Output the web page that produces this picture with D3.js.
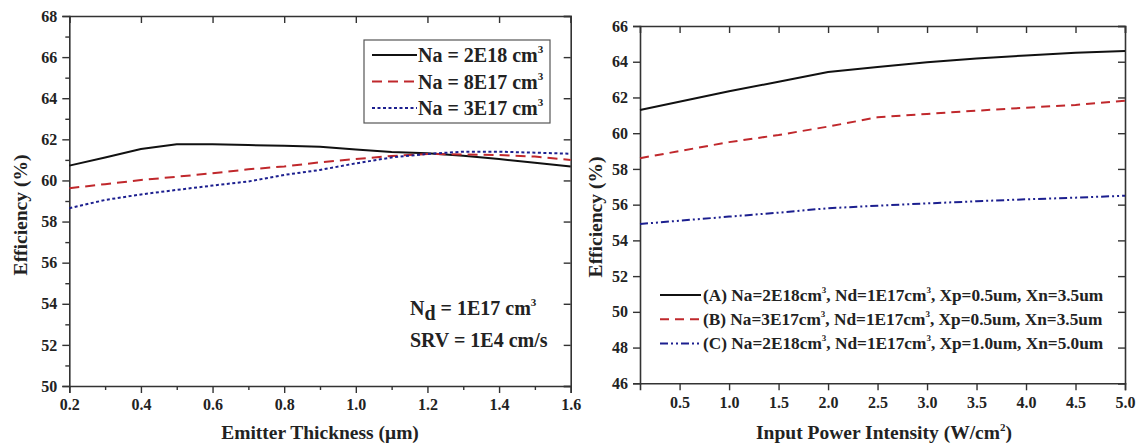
<!DOCTYPE html>
<html>
<head>
<script src="https://d3js.org/d3.v7.min.js"></script>
</head>
<body style="margin:0">
<script>
// left panel: efficiency vs emitter thickness
var thickness = [0.2, 0.3, 0.4, 0.5, 0.6, 0.7, 0.8, 0.9, 1.0, 1.1, 1.2, 1.3, 1.4, 1.5, 1.6];
var effNa2E18 = [60.72, 61.12, 61.53, 61.76, 61.76, 61.72, 61.69, 61.64, 61.5, 61.38, 61.32, 61.2, 61.04, 60.86, 60.68];
var effNa8E17 = [59.62, 59.82, 60.02, 60.18, 60.35, 60.54, 60.68, 60.88, 61.04, 61.19, 61.29, 61.26, 61.24, 61.16, 61.0];
var effNa3E17 = [58.65, 59.05, 59.32, 59.54, 59.75, 59.95, 60.27, 60.51, 60.83, 61.12, 61.29, 61.4, 61.4, 61.35, 61.3];
var leftLegend = ["Na = 2E18 cm", "Na = 8E17 cm", "Na = 3E17 cm"];

// right panel: efficiency vs input power intensity
var power = [0.1, 1.0, 1.5, 2.0, 2.5, 3.0, 3.5, 4.0, 4.5, 5.0];
var effA = [61.3, 62.35, 62.88, 63.42, 63.7, 63.97, 64.18, 64.35, 64.5, 64.6];
var effB = [58.6, 59.5, 59.9, 60.37, 60.89, 61.08, 61.26, 61.43, 61.58, 61.82];
var effC = [54.92, 55.33, 55.55, 55.8, 55.94, 56.07, 56.19, 56.3, 56.39, 56.5];
var rightLegend = [
    ["(A) Na=2E18cm", ", Nd=1E17cm", ", Xp=0.5um, Xn=3.5um"],
    ["(B) Na=3E17cm", ", Nd=1E17cm", ", Xp=0.5um, Xn=3.5um"],
    ["(C) Na=2E18cm", ", Nd=1E17cm", ", Xp=1.0um, Xn=5.0um"]
];

var leftTicksX = [0.2, 0.4, 0.6, 0.8, 1.0, 1.2, 1.4, 1.6];
var leftMinorX = [0.3, 0.5, 0.7, 0.9, 1.1, 1.3, 1.5];
var leftTicksY = [50, 52, 54, 56, 58, 60, 62, 64, 66, 68];
var leftMinorY = [51, 53, 55, 57, 59, 61, 63, 65, 67];
var rightTicksX = [0.5, 1.0, 1.5, 2.0, 2.5, 3.0, 3.5, 4.0, 4.5, 5.0];
var rightTicksY = [46, 48, 50, 52, 54, 56, 58, 60, 62, 64, 66];

var colors = ["#111", "#c0282c", "#1c1f8f"];
var serif = "Liberation Serif";

var svg = d3.select("body").append("svg").attr("width", 1138).attr("height", 445);

function label(sel, size) {
    return sel.append("text").attr("font-family", serif).attr("font-weight", "bold")
        .attr("font-size", size).attr("fill", "#222");
}

function frame(x, y, ticksX, minorX, ticksY, minorY) {
    var x0 = x.range()[0], x1 = x.range()[1], y0 = y.range()[0], y1 = y.range()[1];
    var g = svg.append("g");
    var fmtX = d3.format(".1f");

    g.append("g").attr("transform", "translate(0," + y0 + ")")
        .call(d3.axisBottom(x).tickValues(ticksX).tickSize(7).tickPadding(6).tickFormat(fmtX));
    if (minorX) {
        g.append("g").attr("transform", "translate(0," + y0 + ")")
            .call(d3.axisBottom(x).tickValues(minorX).tickSize(4).tickFormat(""))
            .select(".domain").remove();
    }
    g.append("g").attr("transform", "translate(" + x0 + ",0)")
        .call(d3.axisLeft(y).tickValues(ticksY).tickSize(7).tickPadding(5));
    if (minorY) {
        g.append("g").attr("transform", "translate(" + x0 + ",0)")
            .call(d3.axisLeft(y).tickValues(minorY).tickSize(4).tickFormat(""))
            .select(".domain").remove();
    }
    g.append("g").attr("transform", "translate(0," + y1 + ")")
        .call(d3.axisTop(x).tickValues(ticksX).tickSize(-7).tickFormat(""));
    g.append("g").attr("transform", "translate(" + x1 + ",0)")
        .call(d3.axisRight(y).tickValues(ticksY).tickSize(-7).tickFormat(""));
    g.selectAll(".domain").attr("stroke", "#333").attr("stroke-width", 1.6);
    g.selectAll(".tick line").attr("stroke", "#333").attr("stroke-width", 1.4);
    g.selectAll(".tick text").attr("fill", "#222").attr("font-family", serif)
        .attr("font-weight", "bold").attr("font-size", 16);
    return g;
}

function drawLine(x, y, xs, ys, color, dash) {
    var line = d3.line().x(function(d, i) { return x(xs[i]); }).y(function(d) { return y(d); });
    svg.append("path")
        .datum(ys)
        .attr("fill", "none")
        .attr("stroke", color)
        .attr("stroke-width", 2)
        .attr("stroke-dasharray", dash)
        .attr("d", line);
}

// ---------- left ----------
var xL = d3.scaleLinear().domain([0.2, 1.6]).range([69.3, 570.7]);
var yL = d3.scaleLinear().domain([50, 68]).range([386, 16]);
frame(xL, yL, leftTicksX, leftMinorX, leftTicksY, leftMinorY);

var leftSeries = [effNa2E18, effNa8E17, effNa3E17];
var leftDash = [null, "10,6", "3,2.5"];
leftSeries.forEach(function(s, i) { drawLine(xL, yL, thickness, s, colors[i], leftDash[i]); });

svg.append("rect")
    .attr("x", 364).attr("y", 40).attr("width", 186).attr("height", 83)
    .attr("fill", "#fff").attr("stroke", "#555").attr("stroke-width", 1.2);
leftLegend.forEach(function(t, i) {
    var cy = 55 + i * 26.5;
    svg.append("line").attr("x1", 372).attr("x2", 417).attr("y1", cy).attr("y2", cy)
        .attr("stroke", colors[i]).attr("stroke-width", 2).attr("stroke-dasharray", leftDash[i]);
    var tx = label(svg, 20).attr("x", 418).attr("y", cy + 7);
    tx.append("tspan").text(t);
    tx.append("tspan").attr("dy", -9).attr("font-size", 11).text("3");
});

var nd = label(svg, 20).attr("x", 410).attr("y", 315);
nd.append("tspan").text("N");
nd.append("tspan").attr("dy", 5).text("d");
nd.append("tspan").attr("dy", -5).text(" = 1E17 cm");
nd.append("tspan").attr("dy", -9).attr("font-size", 11).text("3");
label(svg, 20).attr("x", 410).attr("y", 347).text("SRV = 1E4 cm/s");

label(svg, 19.5).attr("x", 320).attr("y", 439).attr("text-anchor", "middle").text("Emitter Thickness (\u03bcm)");
label(svg, 19.5).attr("transform", "translate(27,215) rotate(-90)").attr("text-anchor", "middle").text("Efficiency (%)");

// ---------- right ----------
var xR = d3.scaleLinear().domain([0.1, 5.0]).range([640, 1125]);
var yR = d3.scaleLinear().domain([46, 66]).range([383.3, 26]);
frame(xR, yR, rightTicksX, null, rightTicksY, null);

var rightSeries = [effA, effB, effC];
var rightDash = [null, "9,6", "8,3,2,3,2,3"];
rightSeries.forEach(function(s, i) { drawLine(xR, yR, power, s, colors[i], rightDash[i]); });

rightLegend.forEach(function(parts, i) {
    var cy = 295 + i * 24.2;
    svg.append("line").attr("x1", 660).attr("x2", 701).attr("y1", cy).attr("y2", cy)
        .attr("stroke", colors[i]).attr("stroke-width", 2).attr("stroke-dasharray", rightDash[i]);
    var tx = label(svg, 17.3).attr("x", 703).attr("y", cy + 6);
    tx.append("tspan").text(parts[0]);
    tx.append("tspan").attr("dy", -8).attr("font-size", 9).text("3");
    tx.append("tspan").attr("dy", 8).text(parts[1]);
    tx.append("tspan").attr("dy", -8).attr("font-size", 9).text("3");
    tx.append("tspan").attr("dy", 8).text(parts[2]);
});

var xt = label(svg, 19.5).attr("x", 884).attr("y", 439).attr("text-anchor", "middle");
xt.append("tspan").text("Input Power Intensity (W/cm");
xt.append("tspan").attr("dy", -8).attr("font-size", 11).text("2");
xt.append("tspan").attr("dy", 8).text(")");
label(svg, 19.5).attr("transform", "translate(602,217) rotate(-90)").attr("text-anchor", "middle").text("Efficiency (%)");
</script>
</body>
</html>
